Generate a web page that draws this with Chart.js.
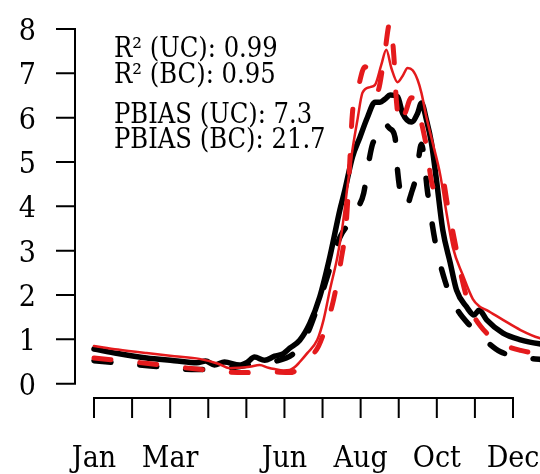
<!DOCTYPE html>
<html>
<head>
<meta charset="utf-8">
<script src="https://cdn.jsdelivr.net/npm/chart.js@4/dist/chart.umd.min.js"></script>
<style>
  html, body { margin: 0; padding: 0; background: #ffffff; }
  canvas { display: block; }
</style>
</head>
<body>
<canvas id="c" width="540" height="474"></canvas>
<script>
// ---- data (x = day of year, y = value) ----
const monthLabels = ['Jan','Feb','Mar','Apr','May','Jun','Jul','Aug','Sep','Oct','Nov','Dec'];
const shownMonths = ['Jan','Mar','Jun','Aug','Oct','Dec'];
const yTicks = [0, 1, 2, 3, 4, 5, 6, 7, 8];
const statsLines = ['R\u00B2 (UC): 0.99', 'R\u00B2 (BC): 0.95', 'PBIAS (UC): 7.3', 'PBIAS (BC): 21.7'];

// black solid (observed, UC)
const obsUcDays = [1, 20, 43, 65, 83, 90, 97, 105, 117, 123, 129, 137, 145, 152, 157, 165, 173, 181, 189, 197, 201, 207, 213, 219, 225, 229, 233, 237, 243, 247, 254, 259, 262, 266, 270, 274, 279, 285, 290, 298, 304, 308, 314, 327, 341, 356, 365];
const obsUcVals = [0.78, 0.68, 0.58, 0.52, 0.47, 0.51, 0.42, 0.49, 0.42, 0.48, 0.60, 0.53, 0.62, 0.68, 0.80, 0.98, 1.36, 1.96, 2.86, 3.92, 4.37, 5.11, 5.56, 6.01, 6.35, 6.35, 6.42, 6.51, 6.47, 6.10, 5.90, 6.10, 6.33, 5.95, 5.43, 4.59, 3.47, 2.72, 2.11, 1.73, 1.55, 1.66, 1.44, 1.14, 0.99, 0.90, 0.87];

// red solid (simulated, UC)
const simUcDays = [1, 20, 43, 65, 85, 100, 109, 117, 125, 133, 140, 145, 152, 157, 162, 165, 171, 179, 184, 189, 195, 199, 203, 207, 211, 215, 221, 225, 230, 234, 238, 243, 247, 251, 255, 259, 262, 266, 271, 277, 282, 287, 295, 303, 308, 314, 327, 341, 356, 365];
const simUcVals = [0.85, 0.77, 0.69, 0.62, 0.56, 0.45, 0.35, 0.36, 0.38, 0.42, 0.36, 0.33, 0.30, 0.31, 0.40, 0.49, 0.69, 0.99, 1.44, 2.11, 2.86, 3.53, 4.44, 5.27, 5.95, 6.56, 6.69, 6.74, 7.19, 7.53, 7.12, 6.80, 6.94, 7.12, 7.07, 6.85, 6.56, 6.01, 5.43, 4.71, 3.85, 3.08, 2.45, 1.91, 1.75, 1.66, 1.44, 1.21, 1.03, 0.98];

// black dashed (observed, BC)
const obsBcDays = [1, 16, 46, 83, 109, 129, 145, 161, 169, 180, 189, 197, 205, 212, 216, 220, 223, 226, 231, 237, 241, 243, 246, 250, 254, 258, 262, 267, 273, 281, 289, 301, 314, 325, 341, 356, 365];
const obsBcVals = [0.52, 0.48, 0.40, 0.32, 0.35, 0.45, 0.50, 0.70, 1.00, 1.80, 2.60, 3.30, 3.65, 4.00, 4.30, 5.00, 5.40, 5.55, 5.90, 5.75, 5.55, 4.80, 4.20, 4.00, 4.30, 4.70, 5.40, 4.30, 3.20, 2.30, 1.75, 1.30, 0.95, 0.72, 0.60, 0.55, 0.53];

// red dashed (simulated, BC)
const simBcDays = [1, 46, 83, 120, 141, 157, 165, 172, 180, 186, 192, 198, 202, 204, 207, 211, 217, 222, 227, 232, 237, 240, 242, 245, 249, 254, 259, 265, 272, 278, 283, 290, 294, 301, 309, 323, 341, 356, 365];
const simBcVals = [0.58, 0.45, 0.33, 0.25, 0.27, 0.25, 0.35, 0.55, 0.85, 1.30, 1.90, 2.80, 3.60, 4.50, 6.10, 6.60, 7.15, 6.90, 6.60, 7.30, 8.15, 7.40, 6.40, 5.85, 6.10, 6.45, 6.20, 5.50, 4.40, 4.70, 4.00, 3.00, 2.40, 1.70, 1.30, 0.95, 0.75, 0.68, 0.65];

// ---- helpers ----
function pts(days, vals) { return days.map((d, i) => ({ x: d, y: vals[i] })); }

const FONT = '"DejaVu Serif Condensed", "DejaVu Serif", serif';
const firstTickDay = 1, lastTickDay = 335;
const tickDay = i => firstTickDay + i * (lastTickDay - firstTickDay) / (monthLabels.length - 1);

function setFont(ctx, px) {
  ctx.font = 'condensed ' + px + 'px ' + FONT;
  if ('fontStretch' in ctx) ctx.fontStretch = 'condensed';
}

const rAxesPlugin = {
  id: 'rAxes',
  afterDraw(chart) {
    const ctx = chart.ctx;
    const xs = chart.scales.x, ys = chart.scales.y;
    ctx.save();
    ctx.strokeStyle = '#000';
    ctx.fillStyle = '#000';
    ctx.lineWidth = 2;
    ctx.lineCap = 'butt';
    // y axis
    const yAxisX = chart.chartArea.left;
    const y0 = ys.getPixelForValue(yTicks[0]);
    const y1 = ys.getPixelForValue(yTicks[yTicks.length - 1]);
    ctx.beginPath();
    ctx.moveTo(yAxisX, y0 + 1); ctx.lineTo(yAxisX, y1 - 1);
    yTicks.forEach(v => {
      const py = ys.getPixelForValue(v);
      ctx.moveTo(yAxisX - 19, py); ctx.lineTo(yAxisX, py);
    });
    ctx.stroke();
    setFont(ctx, 30);
    ctx.textAlign = 'right';
    ctx.textBaseline = 'alphabetic';
    yTicks.forEach(v => ctx.fillText(String(v), 36, ys.getPixelForValue(v) + 11));
    // x axis
    const axisY = chart.chartArea.bottom;
    const xa = xs.getPixelForValue(tickDay(0));
    const xb = xs.getPixelForValue(tickDay(monthLabels.length - 1));
    ctx.beginPath();
    ctx.moveTo(xa - 1, axisY); ctx.lineTo(xb + 1, axisY);
    monthLabels.forEach((m, i) => {
      const px = xs.getPixelForValue(tickDay(i));
      ctx.moveTo(px, axisY); ctx.lineTo(px, axisY + 20);
    });
    ctx.stroke();
    ctx.textAlign = 'center';
    monthLabels.forEach((m, i) => {
      if (shownMonths.includes(m)) {
        ctx.fillText(m, xs.getPixelForValue(tickDay(i)), 467);
      }
    });
    // statistics text
    setFont(ctx, 27);
    ctx.textAlign = 'left';
    const baselines = [57, 83, 123, 148];
    statsLines.forEach((t, i) => ctx.fillText(t, 114, baselines[i]));
    ctx.restore();
  }
};

const pxPerDay = (513 - 94) / (lastTickDay - firstTickDay);
const pxPerUnit = (383.7 - 29) / 8;
const areaTop = 10, areaBottom = 398, areaLeft = 75, areaRight = 540;

new Chart(document.getElementById('c'), {
  type: 'line',
  data: {
    datasets: [
      { label: 'Simulated (BC)', data: pts(simBcDays, simBcVals), borderColor: '#e41a1c', borderWidth: 5, borderDash: [17, 29], borderCapStyle: 'round', borderJoinStyle: 'round' },
      { label: 'Simulated (UC)', data: pts(simUcDays, simUcVals), borderColor: '#e41a1c', borderWidth: 2.5, borderCapStyle: 'round', borderJoinStyle: 'round' },
      { label: 'Observed (BC)', data: pts(obsBcDays, obsBcVals), borderColor: '#000000', borderWidth: 5.5, borderDash: [17, 29], borderCapStyle: 'round', borderJoinStyle: 'round' },
      { label: 'Observed (UC)', data: pts(obsUcDays, obsUcVals), borderColor: '#000000', borderWidth: 5.5, borderCapStyle: 'round', borderJoinStyle: 'round' }
    ]
  },
  options: {
    responsive: false,
    animation: false,
    devicePixelRatio: 1,
    layout: { padding: { left: areaLeft, right: 540 - areaRight, top: areaTop, bottom: 474 - areaBottom } },
    elements: { point: { radius: 0 }, line: { cubicInterpolationMode: 'monotone', fill: false } },
    plugins: { legend: { display: false }, tooltip: { enabled: false } },
    scales: {
      x: {
        type: 'linear', display: false,
        min: firstTickDay - (94 - areaLeft) / pxPerDay,
        max: firstTickDay + (areaRight - 94) / pxPerDay
      },
      y: {
        type: 'linear', display: false,
        min: -(areaBottom - 383.7) / pxPerUnit,
        max: 8 + (29 - areaTop) / pxPerUnit
      }
    }
  },
  plugins: [rAxesPlugin]
});
</script>
</body>
</html>
